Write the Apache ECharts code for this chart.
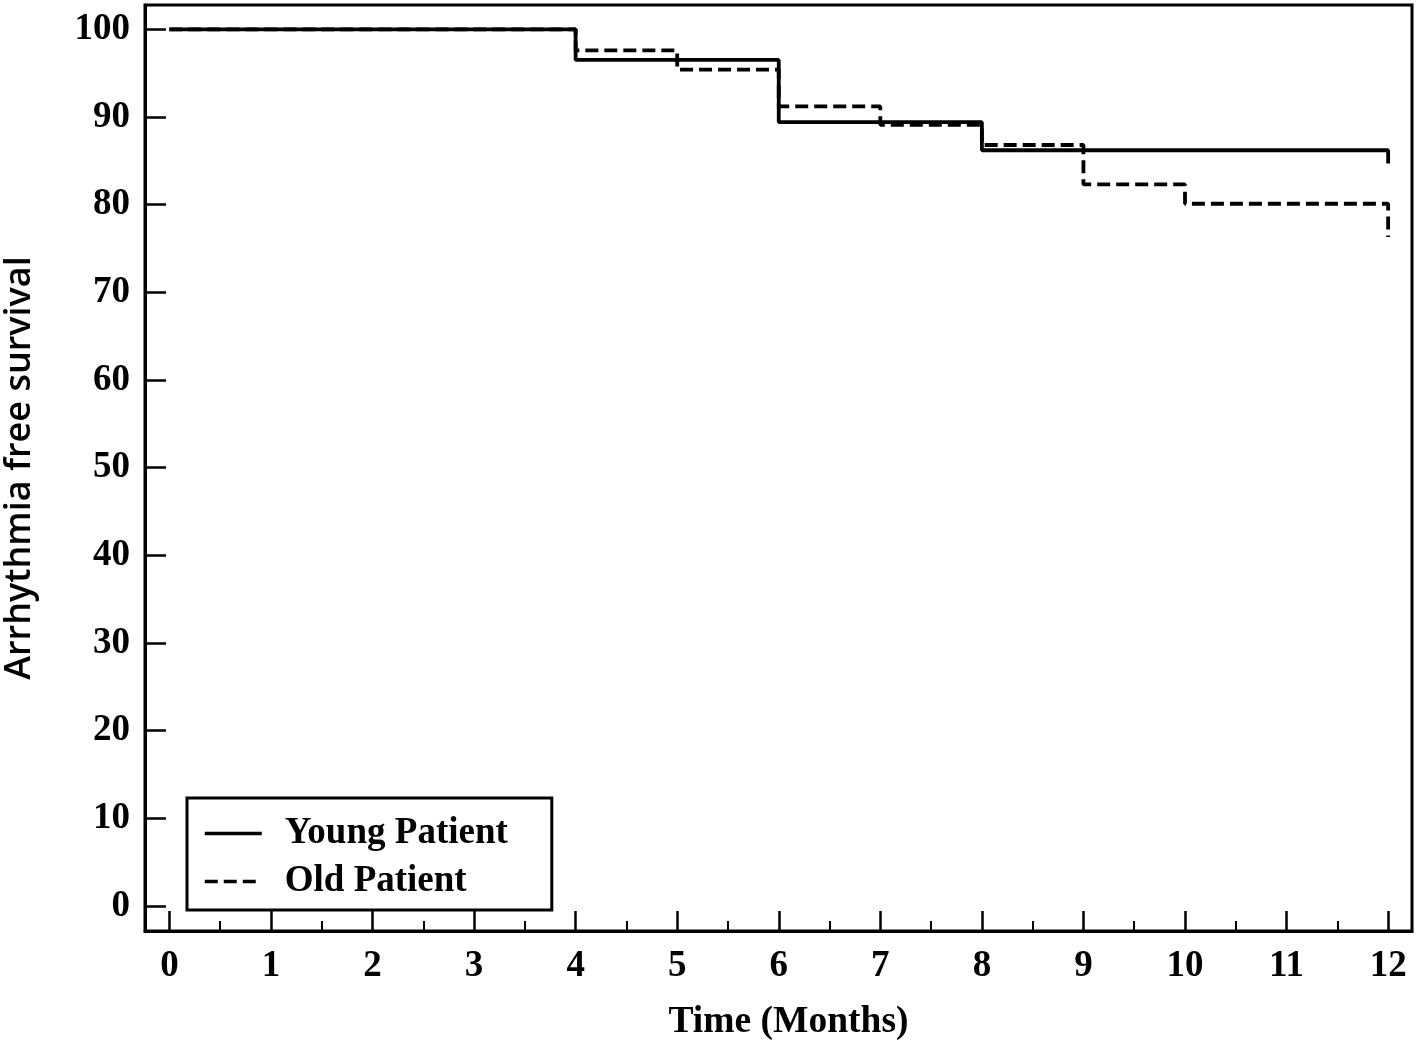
<!DOCTYPE html>
<html>
<head>
<meta charset="utf-8">
<script src="https://cdn.jsdelivr.net/npm/echarts@6/dist/echarts.min.js"></script>
<style>
html,body{margin:0;padding:0;background:#fff;}
#chart{width:1418px;height:1043px;}
</style>
</head>
<body>
<div id="chart"></div>
<script>
// Months with events and survival values (%)
const youngTimes = [0, 4, 6, 8, 12, 12];
const youngValues = [100, 96.5, 89.4, 86.2, 86.2, 84.7];
const oldTimes = [0, 4, 5, 6, 7, 8, 9, 10, 12, 12];
const oldValues = [100, 97.6, 95.4, 91.2, 89.1, 86.8, 82.3, 80.1, 80.1, 76.3];
const xTicks = [0, 1, 2, 3, 4, 5, 6, 7, 8, 9, 10, 11, 12];
const xMinorTicks = [0.5, 1.5, 2.5, 3.5, 4.5, 5.5, 6.5, 7.5, 8.5, 9.5, 10.5, 11.5];
const yTicks = [0, 10, 20, 30, 40, 50, 60, 70, 80, 90, 100];
const seriesNames = ['Young Patient', 'Old Patient'];

const serif = '"Liberation Serif", "Times New Roman", serif';

const chart = echarts.init(document.getElementById('chart'));
chart.setOption({
  backgroundColor: '#fff',
  animation: false,
  grid: {
    left: 145, top: 5, right: 6, bottom: 112,
    outerBoundsMode: 'none',
    containLabel: false,
    show: true, borderColor: '#000', borderWidth: 3, backgroundColor: 'transparent'
  },
  legend: {
    left: 187, top: 798,
    orient: 'vertical',
    data: seriesNames,
    backgroundColor: '#fff',
    borderColor: '#000', borderWidth: 3,
    borderRadius: 0,
    padding: [17, 44, 10, 16],
    itemWidth: 57, itemHeight: 14, itemGap: 11,
    itemStyle: { opacity: 0 },
    lineStyle: { width: 3.5 },
    textStyle: { fontFamily: serif, fontWeight: 'bold', fontSize: 37, color: '#000', lineHeight: 36, padding: [0, 0, 0, 18] }
  },
  xAxis: [{
    type: 'value', min: -0.24, max: 12.235,
    axisLine: { show: true, onZero: false, lineStyle: { color: '#000', width: 3 } },
    axisTick: { show: true, inside: true, length: 20, lineStyle: { color: '#000', width: 2.5 }, customValues: xTicks },
    axisLabel: { customValues: xTicks, margin: 17, fontFamily: serif, fontWeight: 'bold', fontSize: 37, color: '#000' },
    splitLine: { show: false },
    name: 'Time (Months)', nameLocation: 'middle', nameGap: 72,
    nameTextStyle: { fontFamily: serif, fontWeight: 'bold', fontSize: 37.5, color: '#000', padding: [0, 0, 0, 20] }
  }, {
    type: 'value', min: -0.24, max: 12.235, position: 'bottom',
    axisLine: { show: false, onZero: false },
    axisTick: { show: true, inside: true, length: 10, lineStyle: { color: '#000', width: 2 }, customValues: xMinorTicks },
    axisLabel: { show: false },
    splitLine: { show: false }
  }],
  yAxis: {
    type: 'value', min: -2.85, max: 102.77,
    axisLine: { show: true, onZero: false, lineStyle: { color: '#000', width: 3 } },
    axisTick: { show: true, inside: true, length: 21, lineStyle: { color: '#000', width: 2.5 }, customValues: yTicks },
    axisLabel: { customValues: yTicks, margin: 15, fontFamily: serif, fontWeight: 'bold', fontSize: 37, color: '#000' },
    splitLine: { show: false },
    name: 'Arrhythmia free survival', nameLocation: 'middle', nameGap: 107,
    nameTextStyle: { fontFamily: '"Open Sans", "Noto Sans", sans-serif', fontWeight: 600, fontSize: 36, color: '#000' }
  },
  series: [{
    name: seriesNames[0], type: 'line', step: 'end', xAxisIndex: 0,
    data: youngTimes.map((t, i) => [t, youngValues[i]]),
    symbol: 'none', showSymbol: false,
    lineStyle: { color: '#000', width: 3.8, type: 'solid' },
    itemStyle: { color: '#000' }
  }, {
    name: seriesNames[1], type: 'line', step: 'end', xAxisIndex: 0,
    data: oldTimes.map((t, i) => [t, oldValues[i]]),
    symbol: 'none', showSymbol: false,
    lineStyle: { color: '#000', width: 3.8, type: [13, 6] },
    itemStyle: { color: '#000' }
  }]
});
</script>
</body>
</html>
